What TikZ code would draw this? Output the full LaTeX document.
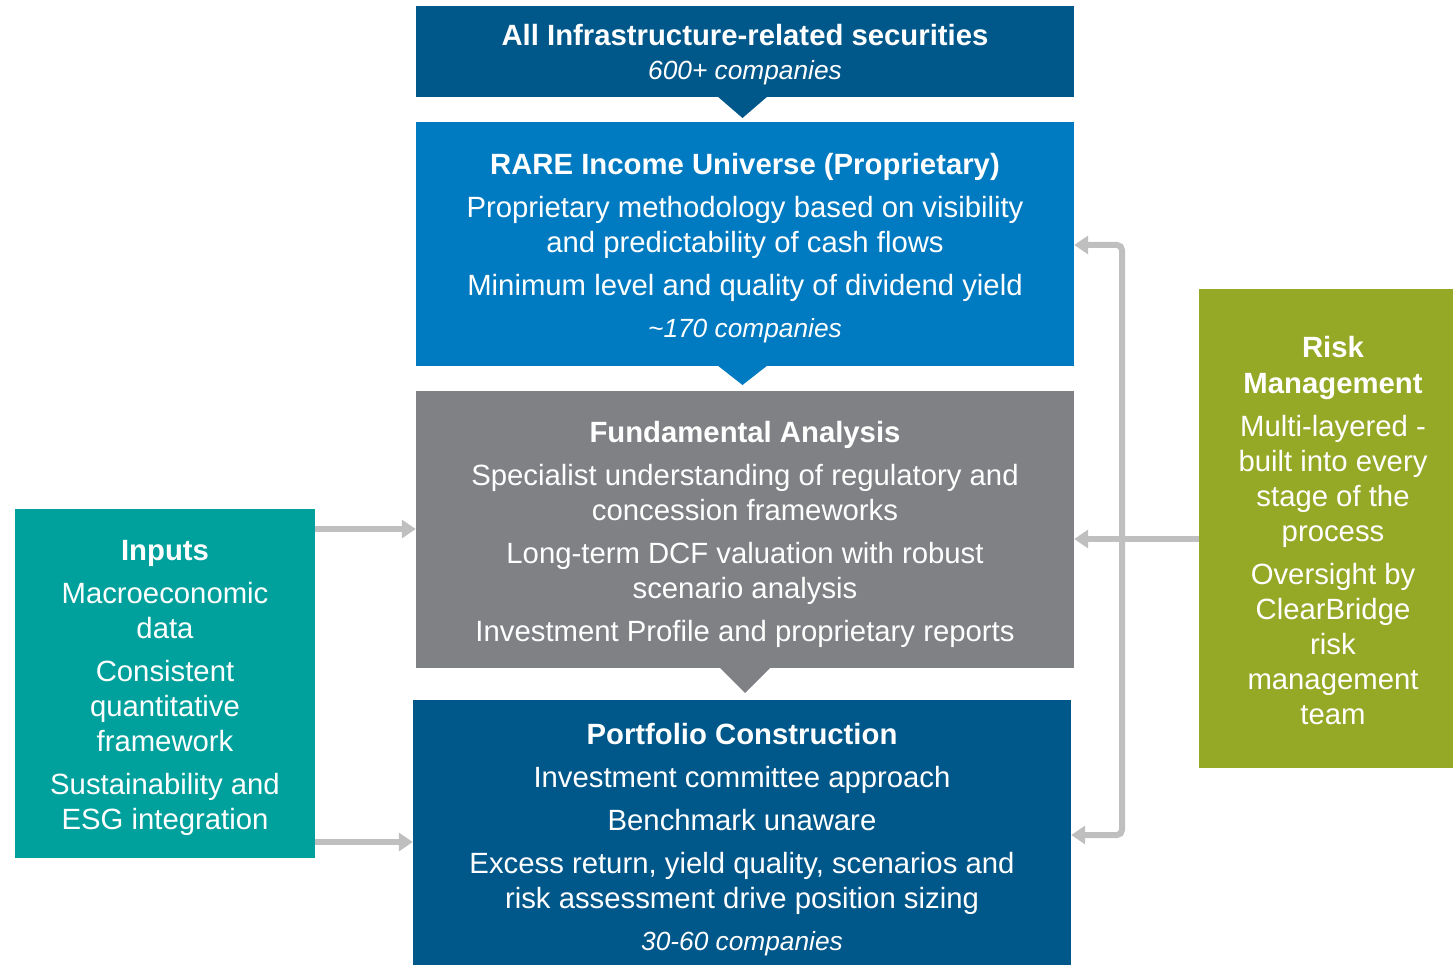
\documentclass[tikz,border=0pt]{standalone}
\usepackage{fontspec}
\setmainfont{Liberation Sans}
\usetikzlibrary{arrows.meta}
\definecolor{navy}{HTML}{00578A}
\definecolor{midblue}{HTML}{007AC0}
\definecolor{slate}{HTML}{808185}
\definecolor{teal}{HTML}{00A19C}
\definecolor{olive}{HTML}{95A926}
\definecolor{linkgray}{HTML}{BFBFBF}
\newcommand{\sub}[1]{{\fontsize{26.3}{35}\selectfont\itshape #1}}
\tikzset{
  panel/.style={draw=none, inner sep=0pt},
  box/.style={draw=none, inner sep=0pt, text=white, align=center,
    font=\fontsize{29.3}{35}\selectfont},
  link/.style={draw=linkgray, line width=6pt,
    -{Triangle[width=18pt,length=14pt]}}
}
\begin{document}
\begin{tikzpicture}[x=1pt,y=-1pt]
\useasboundingbox (0,0) rectangle (1453,965);

% funnel stages: coloured panels with pointers, then their texts
\node[panel, fill=navy, minimum width=658, minimum height=91] (all) at (745,51.5) {};
\fill[navy] (717,96) -- (768,96) -- (742.5,118) -- cycle;
\node[panel, fill=midblue, minimum width=658, minimum height=244] (rare) at (745,244) {};
\fill[midblue] (717,365) -- (768,365) -- (742.5,385) -- cycle;
\node[panel, fill=slate, minimum width=658, minimum height=277] (fund) at (745,529.5) {};
\fill[slate] (719,667) -- (771,667) -- (745,693) -- cycle;
\node[panel, fill=navy, minimum width=658, minimum height=265] (port) at (742,832.5) {};

\node[box] (alltext) at (745,55)
  {\textbf{All Infrastructure-related securities}\\[-1pt]\sub{600+ companies}};

\node[box] (raretext) at (745,248.5)
  {\textbf{RARE Income Universe (Proprietary)}\\[8pt]
   Proprietary methodology based on visibility\\
   and predictability of cash flows\\[8pt]
   Minimum level and quality of dividend yield\\[7pt]
   \sub{\textasciitilde170 companies}};

\node[box] (fundtext) at (745,534)
  {\textbf{Fundamental Analysis}\\[8pt]
   Specialist understanding of regulatory and\\
   concession frameworks\\[8pt]
   Long-term DCF valuation with robust\\
   scenario analysis\\[8pt]
   Investment Profile and proprietary reports};

\node[box] (porttext) at (742,839.5)
  {\textbf{Portfolio Construction}\\[8pt]
   Investment committee approach\\[8pt]
   Benchmark unaware\\[8pt]
   Excess return, yield quality, scenarios and\\
   risk assessment drive position sizing\\[7pt]
   \sub{30-60 companies}};

% side panels
\node[panel, fill=teal, minimum width=300, minimum height=349] (inputs) at (165,683.5) {};
\node[box] (inputstext) at (165,687.5)
  {\textbf{Inputs}\\[8pt]
   Macroeconomic\\data\\[8pt]
   Consistent\\quantitative\\framework\\[8pt]
   Sustainability and\\ESG integration};

\node[panel, fill=olive, minimum width=254, minimum height=479] (risk) at (1326,528.5) {};
\node[box] (risktext) at (1333,530.5)
  {\textbf{Risk}\\[1pt]\textbf{Management}\\[8pt]
   Multi-layered -\\built into every\\stage of the\\process\\[8pt]
   Oversight by\\ClearBridge\\risk\\management\\team};

% connectors
\draw[link] (inputs.east |- 0,529) -- (fund.west |- 0,529);
\draw[link] (inputs.east |- 0,842) -- (port.west |- 0,842);
\coordinate (bus) at (1122,539);
\draw[link] (risk.west |- bus) -- (fund.east |- bus);
\draw[link, rounded corners=5] (bus) |- (rare.east |- 0,245);
\draw[link, rounded corners=5] (bus) |- (port.east |- 0,835);
\end{tikzpicture}
\end{document}
